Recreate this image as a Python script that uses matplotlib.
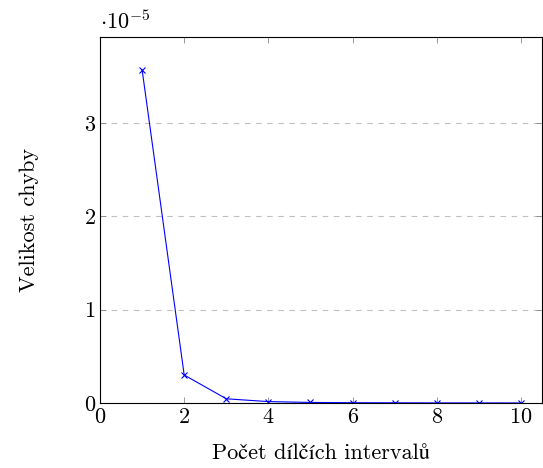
import matplotlib.pyplot as plt

intervals = [1, 2, 3, 4, 5, 6, 7, 8, 9, 10]
errors = [3.57e-5, 0.30e-5, 0.045e-5, 0.015e-5, 0.006e-5, 0.003e-5, 0.002e-5, 0.001e-5, 0.0008e-5, 0.0005e-5]
x_ticks = [0, 2, 4, 6, 8, 10]
y_ticks = [0, 1, 2, 3]

plt.rcParams['font.family'] = ['cmr10', 'STIXGeneral', 'DejaVu Serif']
plt.rcParams['mathtext.fontset'] = 'cm'
plt.rcParams['axes.formatter.use_mathtext'] = True

fig = plt.figure(figsize=(5.43, 4.68), dpi=100)
ax = fig.add_axes([100 / 543, 65 / 468, 442 / 543, 366 / 468])

scaled = [e * 1e5 for e in errors]
ax.plot(intervals, scaled, color='blue', linewidth=0.8, marker='x', markersize=5, markeredgewidth=0.8)

ax.set_xlim(0, 10.5)
ax.set_ylim(0, 3.92)
ax.set_xticks(x_ticks)
ax.set_yticks(y_ticks)
ax.tick_params(direction='in', top=True, right=True, length=4, width=0.6, labelsize=16, color='#888888', pad=3)
for s in ax.spines.values():
    s.set_linewidth(0.8)
ax.grid(axis='y', linestyle=(0, (5, 5)), color='#c0c0c0', linewidth=0.8)
ax.set_axisbelow(True)

ax.text(0, 1.01, r'$\cdot 10^{-5}$', transform=ax.transAxes, fontsize=16, ha='left', va='bottom')
ax.set_xlabel('Počet dílčích intervalů', fontsize=16, labelpad=12)
ax.set_ylabel('Velikost chyby', fontsize=16, labelpad=32)

plt.savefig('out.png', dpi=100)
